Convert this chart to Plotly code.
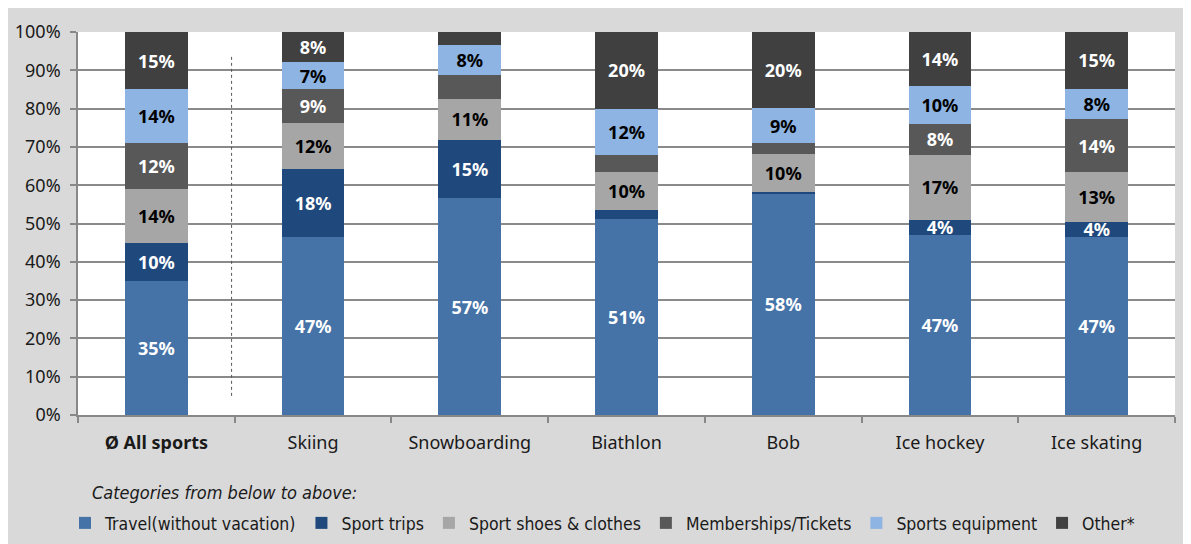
import plotly.graph_objects as go

categories = ["<b>Ø All sports</b>", "Skiing", "Snowboarding", "Biathlon", "Bob", "Ice hockey", "Ice skating"]

travel = [35, 47, 56.6, 51, 58, 47, 47]
sport_trips = [10, 18, 15.2, 2.4, 0.3, 4, 4]
shoes_clothes = [14, 12, 10.9, 10, 10, 17, 13]
memberships = [12, 9, 6.1, 4.5, 3, 8, 14]
equipment = [14, 7, 7.8, 12, 9, 10, 8]
other = [15, 8, 3.5, 20, 20, 14, 15]

# which segments show a value label (True = labelled)
show_travel = [True] * 7
show_trips = [True, True, True, False, False, True, True]
show_shoes = [True] * 7
show_members = [True, True, False, False, False, True, True]
show_equipment = [True] * 7
show_other = [True, True, False, True, True, True, True]

series = [
    ("Travel(without vacation)", travel, show_travel, "#4573a8", "white"),
    ("Sport trips", sport_trips, show_trips, "#1f497d", "white"),
    ("Sport shoes & clothes", shoes_clothes, show_shoes, "#a6a6a6", "black"),
    ("Memberships/Tickets", memberships, show_members, "#585858", "white"),
    ("Sports equipment", equipment, show_equipment, "#8db4e2", "black"),
    ("Other*", other, show_other, "#404040", "white"),
]

label_font = "Noto Sans, DejaVu Sans, sans-serif"
cond_font = "DejaVu Sans Condensed, Liberation Sans Narrow, Noto Sans, sans-serif"

W, H = 1191, 544
L, R, T, B = 70, 24, 24, 137
PW, PH = W - L - R, H - T - B

fig = go.Figure()
for name, vals, show, color, tcolor in series:
    fig.add_trace(go.Bar(
        name=name,
        x=categories,
        y=vals,
        marker=dict(color=color, line=dict(width=0)),
        text=[f"{round(v)}%" if s else "" for v, s in zip(vals, show)],
        textposition="inside",
        insidetextanchor="middle",
        constraintext="none",
        textangle=0,
        textfont=dict(family=label_font, size=18, color=tcolor, weight="bold"),
        hovertemplate="%{x}: %{y:.0f}%<extra>" + name + "</extra>",
    ))

fig.update_layout(
    barmode="stack",
    barnorm="percent",
    bargap=0.6,
    width=W,
    height=H,
    margin=dict(l=L, r=R, t=T, b=B),
    paper_bgcolor="#d9d9d9",
    plot_bgcolor="white",
    font=dict(family=label_font, size=16, color="#1a1a1a"),
    showlegend=True,
    legend=dict(
        orientation="h",
        xref="container", yref="container",
        x=57 / W, xanchor="left",
        y=1 - 497 / H, yanchor="top",
        font=dict(family=cond_font, size=17.5, color="#1a1a1a"),
        bgcolor="rgba(0,0,0,0)",
        itemwidth=30,
        traceorder="normal",
        itemclick=False,
    ),
    xaxis=dict(
        type="category",
        automargin=False,
        showgrid=False,
        showline=True,
        linecolor="#888888",
        linewidth=1.5,
        ticks="outside",
        tickson="boundaries",
        ticklen=6,
        tickcolor="#888888",
        tickwidth=1.5,
        ticklabelstandoff=11,
        tickfont=dict(family=label_font, size=18, color="#1a1a1a"),
    ),
    yaxis=dict(
        automargin=False,
        range=[0, 100],
        dtick=10,
        ticksuffix="%",
        showgrid=True,
        gridcolor="#8a8a8a",
        gridwidth=1.6,
        showline=True,
        linecolor="#888888",
        linewidth=1.5,
        ticks="outside",
        ticklen=6,
        tickcolor="#888888",
        tickwidth=1.5,
        ticklabelstandoff=6,
        zeroline=False,
        tickfont=dict(family=label_font, size=18, color="#1a1a1a"),
        fixedrange=True,
    ),
)

# dotted separator between the average and the single sports
fig.add_shape(type="line", xref="x", yref="y",
              x0=0.48, x1=0.48, y0=5, y1=94,
              line=dict(color="#555555", width=1, dash="dot"))

fig.add_annotation(
    text="<i>Categories from below to above:</i>",
    xref="paper", yref="paper",
    x=(82 - L) / PW, xanchor="left",
    y=(T + PH - 484) / PH, yanchor="middle",
    showarrow=False,
    font=dict(family=cond_font, size=18, color="#1a1a1a"),
)

fig.write_html("out.html")
